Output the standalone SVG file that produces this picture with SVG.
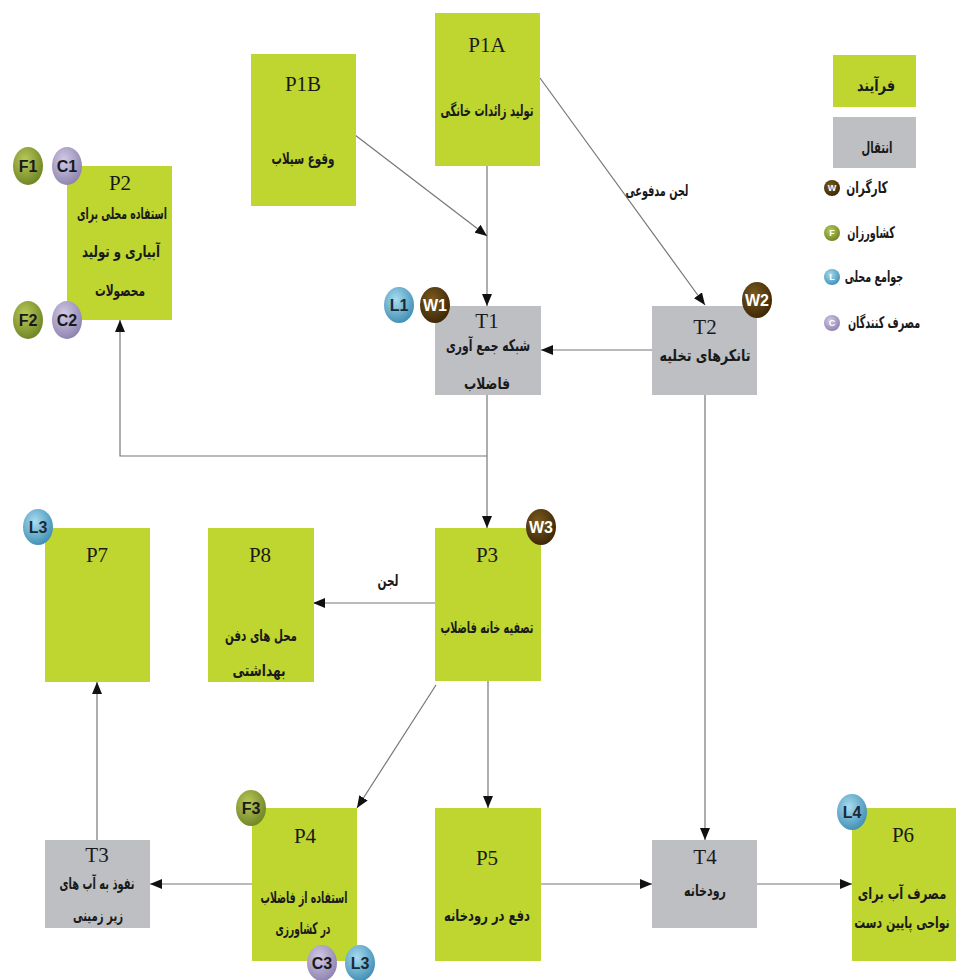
<svg xmlns="http://www.w3.org/2000/svg" width="956" height="980" viewBox="0 0 956 980">
<defs>
<style>
.p{fill:#bed62f}
.t{fill:#bdbfc3}
.id{font-family:"Liberation Serif",serif;font-size:21px;fill:#1a1a1a;text-anchor:middle}
.ar{font-family:"DejaVu Sans",sans-serif;font-size:16px;font-weight:bold;fill:#1a1a1a;text-anchor:middle}
.bt{font-family:"Liberation Sans",sans-serif;font-size:16px;font-weight:bold;text-anchor:middle}
.lt{font-family:"Liberation Sans",sans-serif;font-size:9px;font-weight:bold;text-anchor:middle;fill:#fff}
.c{stroke:#777;stroke-width:1.2;fill:none}
</style>
<radialGradient id="gW" cx="40%" cy="35%" r="70%"><stop offset="0" stop-color="#7a5a1e"/><stop offset="1" stop-color="#3a2506"/></radialGradient>
<radialGradient id="gF" cx="40%" cy="35%" r="70%"><stop offset="0" stop-color="#b9ca5a"/><stop offset="1" stop-color="#6c8222"/></radialGradient>
<radialGradient id="gL" cx="40%" cy="35%" r="70%"><stop offset="0" stop-color="#a8dcef"/><stop offset="1" stop-color="#3d8cb3"/></radialGradient>
<radialGradient id="gC" cx="40%" cy="35%" r="70%"><stop offset="0" stop-color="#d2cbe6"/><stop offset="1" stop-color="#8b80ad"/></radialGradient>
<marker id="ah" viewBox="0 0 12 10" refX="12" refY="5" markerWidth="12" markerHeight="10" markerUnits="userSpaceOnUse" orient="auto"><path d="M0,0 L12,5 L0,10 Z" fill="#111"/></marker>
</defs>
<rect width="956" height="980" fill="#fff"/>

<g id="connectors">
<line class="c" x1="487" y1="166" x2="487" y2="306" marker-end="url(#ah)"/>
<line class="c" x1="355" y1="135" x2="487" y2="236" marker-end="url(#ah)"/>
<line class="c" x1="540" y1="78" x2="705" y2="305" marker-end="url(#ah)"/>
<line class="c" x1="652" y1="350" x2="541" y2="350" marker-end="url(#ah)"/>
<line class="c" x1="487" y1="395" x2="487" y2="528" marker-end="url(#ah)"/>
<polyline class="c" points="487,456 120,456 120,320" marker-end="url(#ah)"/>
<line class="c" x1="705" y1="395" x2="705" y2="840" marker-end="url(#ah)"/>
<line class="c" x1="435" y1="603" x2="313" y2="603" marker-end="url(#ah)"/>
<line class="c" x1="436" y1="685" x2="357" y2="808" marker-end="url(#ah)"/>
<line class="c" x1="488" y1="681" x2="488" y2="808" marker-end="url(#ah)"/>
<line class="c" x1="252" y1="884" x2="150" y2="884" marker-end="url(#ah)"/>
<line class="c" x1="97" y1="840" x2="97" y2="682" marker-end="url(#ah)"/>
<line class="c" x1="541" y1="884" x2="652" y2="884" marker-end="url(#ah)"/>
<line class="c" x1="757" y1="884" x2="852" y2="884" marker-end="url(#ah)"/>
<text class="ar" x="657" y="196" textLength="63" lengthAdjust="spacingAndGlyphs">لجن مدفوعی</text>
<text class="ar" x="388" y="586" textLength="21" lengthAdjust="spacingAndGlyphs">لجن</text>
</g>

<g id="P1B">
<rect class="p" x="251" y="54" width="105" height="152"/>
<text class="id" x="303" y="91">P1B</text>
<text class="ar" x="303" y="164" textLength="63" lengthAdjust="spacingAndGlyphs">وقوع سیلاب</text>
</g>
<g id="P1A">
<rect class="p" x="435" y="13" width="105" height="153"/>
<text class="id" x="487" y="52">P1A</text>
<text class="ar" x="487" y="116" textLength="93" lengthAdjust="spacingAndGlyphs">تولید زائدات خانگی</text>
</g>
<g id="P2">
<rect class="p" x="67" y="166" width="105" height="154"/>
<text class="id" x="120" y="190">P2</text>
<text class="ar" x="122" y="219" textLength="90" lengthAdjust="spacingAndGlyphs">استفاده محلی برای</text>
<text class="ar" x="121" y="257" textLength="78" lengthAdjust="spacingAndGlyphs">آبیاری و تولید</text>
<text class="ar" x="120" y="296" textLength="50" lengthAdjust="spacingAndGlyphs">محصولات</text>
</g>
<g id="T1">
<rect class="t" x="435" y="306" width="106" height="89"/>
<text class="id" x="487" y="328">T1</text>
<text class="ar" x="488" y="351" textLength="84" lengthAdjust="spacingAndGlyphs">شبکه جمع آوری</text>
<text class="ar" x="487" y="389" textLength="46" lengthAdjust="spacingAndGlyphs">فاضلاب</text>
</g>
<g id="T2">
<rect class="t" x="652" y="306" width="105" height="89"/>
<text class="id" x="705" y="334">T2</text>
<text class="ar" x="705" y="361" textLength="91" lengthAdjust="spacingAndGlyphs">تانکرهای تخلیه</text>
</g>
<g id="P7">
<rect class="p" x="45" y="528" width="105" height="154"/>
<text class="id" x="97" y="562">P7</text>
</g>
<g id="P8">
<rect class="p" x="208" y="528" width="106" height="154"/>
<text class="id" x="260" y="562">P8</text>
<text class="ar" x="261" y="641" textLength="72" lengthAdjust="spacingAndGlyphs">محل های دفن</text>
<text class="ar" x="259" y="676" textLength="53" lengthAdjust="spacingAndGlyphs">بهداشتی</text>
</g>
<g id="P3">
<rect class="p" x="435" y="528" width="106" height="153"/>
<text class="id" x="487" y="562">P3</text>
<text class="ar" x="487" y="633" textLength="93" lengthAdjust="spacingAndGlyphs">تصفیه خانه فاضلاب</text>
</g>
<g id="T3">
<rect class="t" x="45" y="840" width="105" height="88"/>
<text class="id" x="97" y="862">T3</text>
<text class="ar" x="97" y="889" textLength="75" lengthAdjust="spacingAndGlyphs">نفوذ به آب های</text>
<text class="ar" x="98" y="921" textLength="50" lengthAdjust="spacingAndGlyphs">زیر زمینی</text>
</g>
<g id="P4">
<rect class="p" x="252" y="808" width="105" height="153"/>
<text class="id" x="305" y="843">P4</text>
<text class="ar" x="304" y="903" textLength="87" lengthAdjust="spacingAndGlyphs">استفاده از فاضلاب</text>
<text class="ar" x="303" y="934" textLength="55" lengthAdjust="spacingAndGlyphs">در کشاورزی</text>
</g>
<g id="P5">
<rect class="p" x="435" y="808" width="106" height="153"/>
<text class="id" x="487" y="865">P5</text>
<text class="ar" x="487" y="921" textLength="86" lengthAdjust="spacingAndGlyphs">دفع در رودخانه</text>
</g>
<g id="T4">
<rect class="t" x="652" y="840" width="105" height="88"/>
<text class="id" x="705" y="864">T4</text>
<text class="ar" x="705" y="896" textLength="42" lengthAdjust="spacingAndGlyphs">رودخانه</text>
</g>
<g id="P6">
<rect class="p" x="852" y="808" width="104" height="153"/>
<text class="id" x="903" y="842">P6</text>
<text class="ar" transform="translate(902,899) scale(0.72,1)" x="0" y="0">مصرف آب برای</text>
<text class="ar" transform="translate(902,928) scale(0.68,1)" x="0" y="0">نواحی پایین دست</text>
</g>

<g id="badges">
<ellipse cx="28" cy="166" rx="15" ry="19" fill="url(#gF)"/><text class="bt" x="28" y="172" fill="#1a1a1a">F1</text>
<ellipse cx="67" cy="166" rx="15" ry="19" fill="url(#gC)"/><text class="bt" x="67" y="172" fill="#1a1a1a">C1</text>
<ellipse cx="28" cy="320" rx="15" ry="19" fill="url(#gF)"/><text class="bt" x="28" y="326" fill="#1a1a1a">F2</text>
<ellipse cx="67" cy="320" rx="15" ry="19" fill="url(#gC)"/><text class="bt" x="67" y="326" fill="#1a1a1a">C2</text>
<ellipse cx="399" cy="305" rx="15" ry="18" fill="url(#gL)"/><text class="bt" x="399" y="311" fill="#1a2a3a">L1</text>
<ellipse cx="435" cy="305" rx="15" ry="18" fill="url(#gW)"/><text class="bt" x="435" y="311" fill="#fff">W1</text>
<ellipse cx="757" cy="300" rx="15" ry="18" fill="url(#gW)"/><text class="bt" x="757" y="306" fill="#fff">W2</text>
<ellipse cx="541" cy="527" rx="15" ry="18" fill="url(#gW)"/><text class="bt" x="541" y="533" fill="#fff">W3</text>
<ellipse cx="38" cy="527" rx="15" ry="18" fill="url(#gL)"/><text class="bt" x="38" y="533" fill="#1a2a3a">L3</text>
<ellipse cx="251" cy="808" rx="15" ry="18" fill="url(#gF)"/><text class="bt" x="251" y="814" fill="#1a1a1a">F3</text>
<ellipse cx="322" cy="963" rx="15" ry="18" fill="url(#gC)"/><text class="bt" x="322" y="969" fill="#1a1a1a">C3</text>
<ellipse cx="360" cy="963" rx="15" ry="18" fill="url(#gL)"/><text class="bt" x="360" y="969" fill="#1a2a3a">L3</text>
<ellipse cx="852" cy="812" rx="15" ry="18" fill="url(#gL)"/><text class="bt" x="852" y="818" fill="#1a2a3a">L4</text>
</g>

<g id="legend">
<rect class="p" x="833" y="55" width="83" height="52"/>
<text class="ar" x="876" y="91" textLength="38" lengthAdjust="spacingAndGlyphs">فرآیند</text>
<rect class="t" x="833" y="117" width="83" height="51"/>
<text class="ar" x="877" y="153" textLength="31" lengthAdjust="spacingAndGlyphs">انتقال</text>
<circle cx="832" cy="188" r="8" fill="url(#gW)"/><text class="lt" x="832" y="191">W</text>
<text class="ar" transform="translate(867,193) scale(0.66,1)" x="0" y="0">کارگران</text>
<circle cx="832" cy="233" r="8" fill="url(#gF)"/><text class="lt" x="832" y="236">F</text>
<text class="ar" transform="translate(871,238) scale(0.6,1)" x="0" y="0">کشاورزان</text>
<circle cx="832" cy="277" r="8" fill="url(#gL)"/><text class="lt" x="832" y="280">L</text>
<text class="ar" transform="translate(874,282) scale(0.6,1)" x="0" y="0">جوامع محلی</text>
<circle cx="832" cy="323" r="8" fill="url(#gC)"/><text class="lt" x="832" y="326">C</text>
<text class="ar" transform="translate(884,328) scale(0.6,1)" x="0" y="0">مصرف کنندگان</text>
</g>
</svg>
